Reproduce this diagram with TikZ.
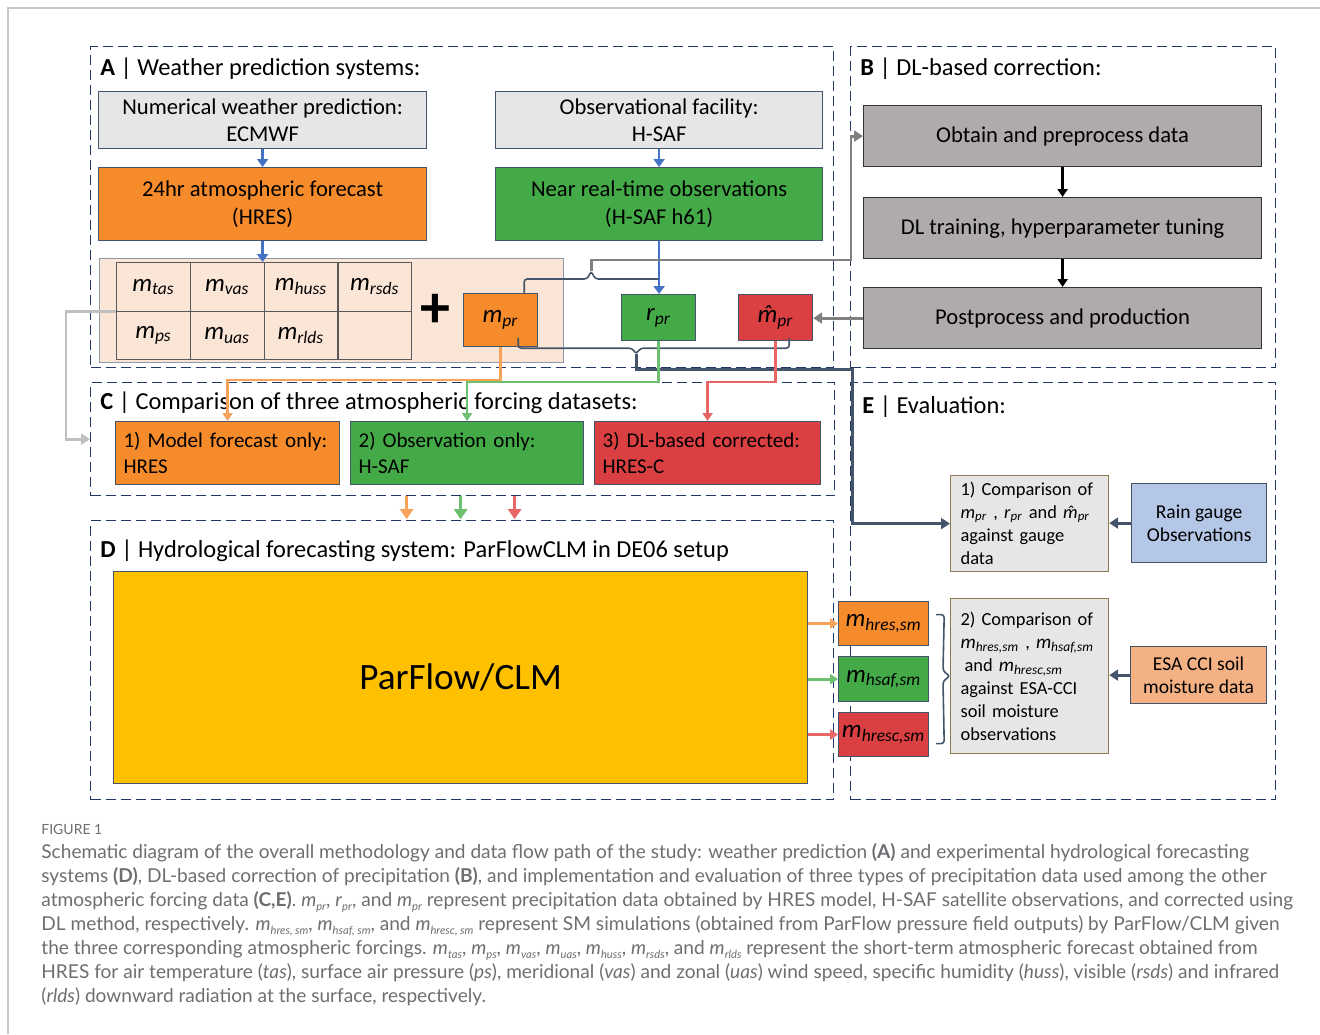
\documentclass[tikz,border=0pt]{standalone}
\usepackage{fontspec}
\setmainfont{Carlito}
\newfontfamily\capfont{Lato}
\usetikzlibrary{arrows.meta,positioning,calc}
\definecolor{ink}{HTML}{000000}
\definecolor{navy}{HTML}{1F3864}
\definecolor{slate}{HTML}{44546A}
\definecolor{boxgrey}{HTML}{E7E6E6}
\definecolor{dlgrey}{HTML}{AFABAB}
\definecolor{fcorange}{HTML}{F68B2C}
\definecolor{obsgreen}{HTML}{44AA47}
\definecolor{corrred}{HTML}{DA4042}
\definecolor{peach}{HTML}{FBE5D6}
\definecolor{pfyellow}{HTML}{FFC000}
\definecolor{arrblue}{HTML}{4472C4}
\definecolor{gaugeblue}{HTML}{B4C7E7}
\definecolor{esaorange}{HTML}{F4B183}
\definecolor{gold}{HTML}{8C7B4E}
\definecolor{capgrey}{HTML}{6D6E71}
\definecolor{framegrey}{HTML}{C8C8C8}
\definecolor{lightorange}{HTML}{F9A35A}
\definecolor{lightgreen}{HTML}{6CC070}
\definecolor{lightred}{HTML}{E86666}
\newcommand{\dgfont}{\fontsize{11.3}{13.2}\selectfont}
\newcommand{\titfont}{\fontsize{12.2}{14}\selectfont}
\newcommand{\evfont}{\fontsize{9.8}{11.5}\selectfont}
\newcommand{\cmpfont}{\fontsize{9.2}{11.5}\selectfont}
\newcommand{\cellfont}{\fontsize{12.5}{15}\selectfont}
\newcommand{\smm}{\fontsize{9.6}{11}\selectfont}
\newcommand{\mv}[1]{\textit{m}\textsubscript{\textit{#1}}}
\newcommand{\rv}[1]{\textit{r}\textsubscript{\textit{#1}}}
\newcommand{\mhatv}[1]{\textit{\accent"02C6 m}\textsubscript{\textit{#1}}}
% caption symbols with small subscripts
\newcommand{\csym}[2]{\textit{#1}\raisebox{-0.4ex}{\fontsize{5.6}{6}\selectfont\textit{#2}}}
\tikzset{
  every node/.style={font=\dgfont,text=ink},
  panel/.style={draw=navy,dash pattern=on 5pt off 2.5pt,line width=0.6pt,anchor=north west,inner sep=0pt},
  ptitle/.style={anchor=west,font=\titfont,inner sep=0pt},
  box/.style={draw=slate,line width=0.6pt,anchor=north west,align=center,inner sep=1pt},
  greybox/.style={box,fill=boxgrey},
  orbox/.style={box,fill=fcorange},
  grbox/.style={box,fill=obsgreen},
  rdbox/.style={box,fill=corrred},
  dlbox/.style={box,fill=dlgrey,draw=black!80},
  cbox/.style={align=left,inner xsep=4pt,font=\fontsize{10.5}{13}\selectfont},
  evalbox/.style={box,fill=boxgrey,draw=gold,align=left,inner xsep=5pt,font=\cmpfont},
  cell/.style={draw=black!65,line width=0.6pt,anchor=north west,minimum width=36.9pt,minimum height=24.25pt,inner sep=0pt,font=\cellfont},
  bluearr/.style={-{Triangle[length=4pt,width=5.5pt]},line width=1.3pt,draw=arrblue},
  blkarr/.style={-{Triangle[length=4pt,width=5pt]},line width=1.2pt,draw=black},
  dgarr/.style={-{Triangle[length=4.5pt,width=5.5pt]},line width=1.4pt,draw=black!50},
  ltgrarr/.style={-{Triangle[length=4.5pt,width=5.5pt]},line width=1.4pt,draw=black!25},
  darkarr/.style={-{Triangle[length=4.5pt,width=5.5pt]},line width=1.5pt,draw=slate},
  bracket/.style={line width=0.8pt,draw=slate,rounded corners=1.5pt},
  feed/.style={-{Triangle[length=4pt,width=5pt]},line width=1.2pt},
  dnarr/.style={-{Triangle[length=5pt,width=6.5pt]},line width=1.5pt},
}
\begin{document}
\begin{tikzpicture}[x=0.5pt,y=-0.5pt]
\useasboundingbox (0,0) rectangle (1320,1034);
\draw[draw=framegrey,line width=0.8pt] (8,1034) -- (8,8) -- (1320,8);

% panels
\node[panel,minimum width=371.5pt,minimum height=160.5pt] (panA) at (90,46) {};
\node[panel,minimum width=212.5pt,minimum height=160.5pt] (panB) at (850,46) {};
\node[panel,minimum width=372pt,minimum height=56.5pt] (panC) at (90,382) {};
\node[panel,minimum width=371.5pt,minimum height=139.5pt] (panD) at (90,520) {};
\node[panel,minimum width=212.5pt,minimum height=208.5pt] (panE) at (850,382) {};
\node[ptitle] (tA) at (100,69) {\textbf{A} | Weather prediction systems:};
\node[ptitle] (tB) at (860,69) {\textbf{B} | DL-based correction:};
\node[ptitle] (tC) at (100,403) {\textbf{C} | Comparison of three atmospheric forcing datasets:};
\node[ptitle] (tD) at (100,551) {\textbf{D} | Hydrological forecasting system: ParFlowCLM in DE06 setup};
\node[ptitle] (tE) at (862,407) {\textbf{E} | Evaluation:};

% A: sources
\node[greybox,minimum width=164pt,minimum height=28.5pt] (nwp) at (98,91) {Numerical weather prediction:\\ECMWF};
\node[greybox,minimum width=163.5pt,minimum height=28.5pt] (obsf) at (495,91) {Observational facility:\\H-SAF};
\node[orbox,minimum width=164pt,minimum height=36.5pt] (hres) at (98,167) {24hr atmospheric forecast\\[1pt](HRES)};
\node[grbox,minimum width=163.5pt,minimum height=36.5pt] (hsaf) at (495,167) {Near real-time observations\\[1pt](H-SAF h61)};

% A: forecast variables
\node[box,fill=peach,draw=slate!60,minimum width=232pt,minimum height=52pt] (prep) at (99,258) {};
\foreach \lab [count=\i from 0] in {tas,vas,huss,rsds}
  \node[cell] (t1\i) at (116+73.75*\i,262) {\mv{\lab}};
\foreach \lab [count=\i from 0] in {ps,uas,rlds}
  \node[cell] (t2\i) at (116+73.75*\i,310.5) {\mv{\lab}};
\node[cell] (t23) at (337.25,310.5) {};
\node[inner sep=0pt,font=\fontsize{30}{30}\selectfont\bfseries] (plus) at (435,311) {+};
\node[orbox,minimum width=37pt,minimum height=26.5pt,font=\cellfont] (mpr) at (463,293) {\mv{pr}};
\node[grbox,minimum width=37pt,minimum height=23pt,font=\cellfont] (rpr) at (621,294) {\rv{pr}};
\node[rdbox,minimum width=37pt,minimum height=23pt,font=\cellfont] (mhat) at (738,294) {\mhatv{pr}};

\draw[bluearr] (nwp.south) -- (hres.north);
\draw[bluearr] (obsf.south) -- (hsaf.north);
\draw[bluearr] (hres.south) -- (hres.south |- t12.north);
\draw[bluearr] (hsaf.south) -- (hsaf.south |- rpr.north);

% B: correction chain
\node[dlbox,minimum width=199pt,minimum height=30.5pt] (obtain) at (863,105) {Obtain and preprocess data};
\node[dlbox,minimum width=199pt,minimum height=30.5pt] (train) at (863,197) {DL training, hyperparameter tuning};
\node[dlbox,minimum width=199pt,minimum height=30.5pt] (post) at (863,287) {Postprocess and production};
\draw[blkarr] (obtain) -- (train);
\draw[blkarr] (train) -- (post);
\draw[dgarr] (post.west) -- (post.west -| mhat.east);

% E: evaluation boxes (named before the feeds below)
\node[evalbox,minimum width=79pt,minimum height=48pt,text width=69pt] (cmp1) at (950,475) {1) Comparison of\\\mv{pr} , \rv{pr} and \mhatv{pr}\\against gauge\\data};
\node[box,fill=gaugeblue,draw=slate,minimum width=67.5pt,minimum height=39.5pt,font=\evfont] (gauge) at (1131,483) {Rain gauge\\Observations};
\node[evalbox,minimum width=79pt,minimum height=77.5pt,text width=69pt] (cmp2) at (950,598) {2) Comparison of\\{\smm\mv{hres,sm}} , {\smm\mv{hsaf,sm}}\\\hspace{2pt}and {\smm\mv{hresc,sm}}\\against ESA-CCI\\soil moisture\\observations};
\node[box,fill=esaorange,draw=slate,minimum width=68pt,minimum height=28.5pt,font=\evfont] (esa) at (1130,646) {ESA CCI soil\\moisture data};

% brackets to B and E
\draw[bracket] ($(mpr.north east)+(-14,0)$) -- ++(0,-14) -- ++(63,0) -- ++(4,-8) coordinate (cuspA) -- ++(4,8) -- (rpr.north |- 0,279);
\draw[dgarr] (cuspA) -- ++(0,-11) -| ($(obtain.west)+(-12,0)$) -- (obtain.west);
\draw[bracket] ($(mpr.south east)+(-20,-9)$) -- ++(0,10) -- ++(114,0) -- ++(4,6) coordinate (cuspB) -- ++(4,-6) -- ($(mhat.south east)+(-24,7)$) -- ++(0,-10);
\draw[darkarr] (cuspB) -- ++(0,15) -| ($(cmp1.west)+(-98,0)$) -- (cmp1.west);

% C: three forcing datasets
\node[orbox,cbox,minimum width=112pt,minimum height=31.5pt,text width=104pt] (c1) at (115,421) {1) Model forecast only:\\HRES};
\node[grbox,cbox,minimum width=116.5pt,minimum height=31.5pt,text width=108.5pt] (c2) at (350,421) {2) Observation only:\\H-SAF};
\node[rdbox,cbox,minimum width=113pt,minimum height=31.5pt,text width=105pt] (c3) at (594,421) {3) DL-based corrected:\\HRES-C};
\draw[feed,draw=lightorange] (mpr.south) -- ++(0,33) -| (c1.north);
\draw[feed,draw=lightgreen] (rpr.south) -- ++(0,41) -| (c2.north);
\draw[feed,draw=lightred] (mhat.south) -- ++(0,41) -| (c3.north);
\draw[ltgrarr] (t10.south west) -- ++(-50,0) |- (panC.west);
\foreach \dx/\cl in {-56/lightorange,-2/lightgreen,52/lightred}
  \draw[dnarr,draw=\cl] ($(panC.south)+(\dx,0)$) -- ++(0,23);

% D: hydrological model
\node[box,fill=pfyellow,minimum width=347pt,minimum height=106pt,font=\fontsize{18.6}{20}\selectfont] (pf) at (113,571) {ParFlow/CLM};
\node[orbox,minimum width=45pt,minimum height=22pt,font=\cellfont] (sm1) at (838,601) {\mv{hres,sm}};
\node[grbox,minimum width=45pt,minimum height=22.5pt,font=\cellfont] (sm2) at (838,656) {\mv{hsaf,sm}};
\node[rdbox,minimum width=45pt,minimum height=22pt,font=\cellfont] (sm3) at (838,712) {\mv{hresc,sm}};
\foreach \s/\cl in {sm1/lightorange,sm2/lightgreen,sm3/lightred}
  \draw[feed,line width=1.5pt,draw=\cl] (pf.east |- \s.west) -- (\s.west);

% E: links
\draw[darkarr] (gauge.west) -- (gauge.west -| cmp1.east);
\draw[darkarr] (esa.west) -- (esa.west -| cmp2.east);
\draw[bracket] ($(sm1.east)+(7,-9)$) -- ++(8,0) -- ($(cmp2.west)+(-7,-5)$) -- (cmp2.west) -- ($(cmp2.west)+(-7,5)$) -- ($(sm3.east)+(15,9)$) -- ++(-8,0);

% caption
\node[anchor=north west,inner sep=0pt,font=\capfont\fontsize{7}{8}\selectfont,text=capgrey] (fig) at (41,824) {FIGURE 1};
\node[anchor=north west,inner sep=0pt,align=left,font=\capfont\fontsize{9.55}{12}\selectfont,text=capgrey] (cap) at (41,843) {%
Schematic diagram of the overall methodology and data flow path of the study: weather prediction \textbf{(A)} and experimental hydrological forecasting\\
systems \textbf{(D)}, DL-based correction of precipitation \textbf{(B)}, and implementation and evaluation of three types of precipitation data used among the other\\
atmospheric forcing data \textbf{(C,E)}. \csym{m}{pr}, \csym{r}{pr}, and \csym{m}{pr} represent precipitation data obtained by HRES model, H-SAF satellite observations, and corrected using\\
DL method, respectively. \csym{m}{hres, sm}, \csym{m}{hsaf, sm}, and \csym{m}{hresc, sm} represent SM simulations (obtained from ParFlow pressure field outputs) by ParFlow/CLM given\\
the three corresponding atmospheric forcings. \csym{m}{tas}, \csym{m}{ps}, \csym{m}{vas}, \csym{m}{uas}, \csym{m}{huss}, \csym{m}{rsds}, and \csym{m}{rlds} represent the short-term atmospheric forecast obtained from\\
HRES for air temperature (\textit{tas}), surface air pressure (\textit{ps}), meridional (\textit{vas}) and zonal (\textit{uas}) wind speed, specific humidity (\textit{huss}), visible (\textit{rsds}) and infrared\\
(\textit{rlds}) downward radiation at the surface, respectively.};
\end{tikzpicture}
\end{document}
